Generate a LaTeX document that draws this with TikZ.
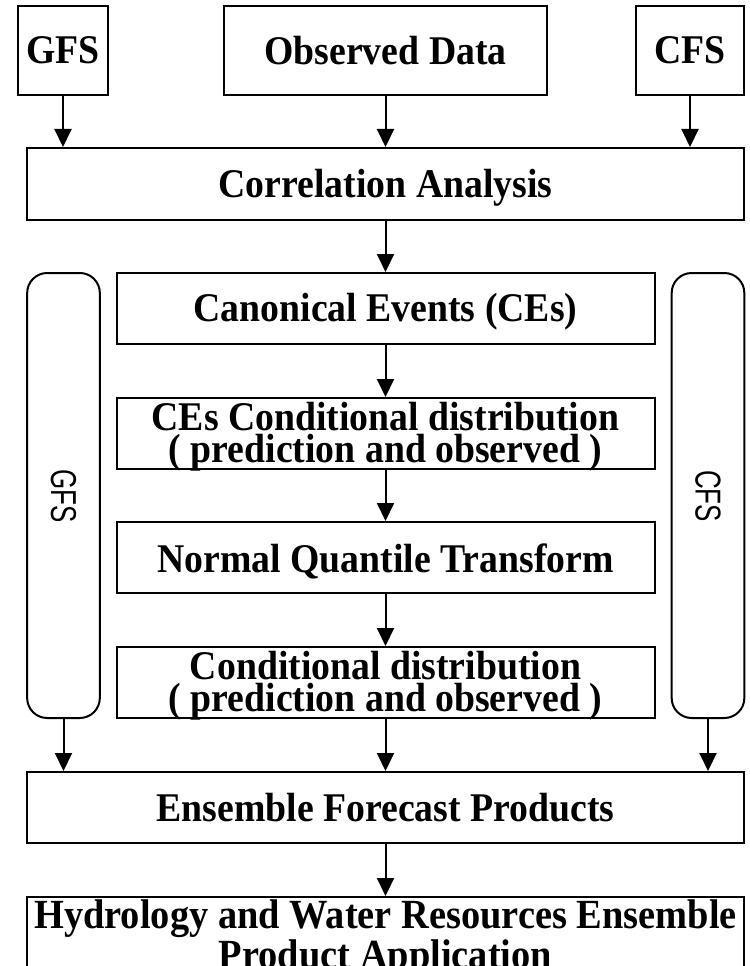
\documentclass[tikz,border=0pt]{standalone}
\usepackage{fontspec}
\setmainfont{Liberation Serif}
\setsansfont{Liberation Sans}
\usetikzlibrary{arrows.meta}
\begin{document}
\begin{tikzpicture}[x=0.75pt,y=-0.75pt,
  box/.style={draw, line width=1.5pt, rectangle, inner sep=0, minimum height=53.25pt},
  rbox/.style={draw, line width=1.5pt, rounded corners=15pt, inner sep=0, minimum width=54.5pt, minimum height=333.75pt},
  lbl/.style={inner sep=0, align=center, font=\fontsize{28.3}{22.9}\selectfont\bfseries, yscale=1.08},
  lbltwo/.style={inner sep=0, align=center, font=\fontsize{28.3}{22.2}\selectfont\bfseries, yscale=1.08},
  side/.style={inner sep=0, font=\fontsize{27}{30}\selectfont\sffamily, rotate=-90},
  arr/.style={line width=1.5pt, -{Triangle[length=13.5pt,width=12.75pt]}}]
\useasboundingbox (0,0) rectangle (749,966);
% top row
\node[box, minimum width=67.5pt, minimum height=66.75pt] (gfs) at (63,50.5) {};
\node[lbl] (tgfs) at (63,50.5) {GFS};
\node[box, minimum width=242.25pt, minimum height=66.75pt] (obs) at (385.5,50.5) {};
\node[lbl] (tobs) at (385.5,50.5) {Observed Data};
\node[box, minimum width=81pt, minimum height=66.75pt] (cfs) at (690,50.5) {};
\node[lbl] (tcfs) at (690,50.5) {CFS};
% correlation
\node[box, minimum width=537.75pt, minimum height=54pt] (ca) at (385.5,184) {};
\node[lbl] (tca) at (385.5,187.5) {Correlation Analysis};
% side rounded boxes
\node[rbox] (gl) at (63.5,495.5) {};
\node[side] (tgl) at (63.5,496) {\scalebox{0.72}[1]{GFS}};
\node[rbox] (gr) at (708,495.5) {};
\node[side] (tgr) at (708,496) {\scalebox{0.72}[1]{CFS}};
% middle chain
\node[box, minimum width=403.5pt] (ce) at (385.5,308.5) {};
\node[lbl] (tce) at (385.5,312) {Canonical Events (CEs)};
\node[box, minimum width=403.5pt] (cec) at (385.5,433.5) {};
\node[lbltwo] (tcec) at (385.5,437) {CEs Conditional distribution\\( prediction and observed )};
\node[box, minimum width=403.5pt] (nqt) at (385.5,557.5) {};
\node[lbl] (tnqt) at (385.5,561) {Normal Quantile Transform};
\node[box, minimum width=403.5pt] (cd) at (385.5,682.5) {};
\node[lbltwo] (tcd) at (385.5,685.5) {Conditional distribution\\( prediction and observed )};
% ensemble
\node[box, minimum width=537.75pt] (efp) at (385.5,807.5) {};
\node[lbl] (tefp) at (385.5,807.5) {Ensemble Forecast Products};
\node[box, minimum width=537.75pt, minimum height=69.75pt] (hyd) at (385.5,943.5) {};
\node[lbl, font=\fontsize{28.8}{25}\selectfont\bfseries] (thyd) at (385.5,938.5) {Hydrology and Water Resources Ensemble\\Product Application};
% arrows
\draw[arr] (gfs) -- (gfs |- ca.north);
\draw[arr] (obs) -- (obs |- ca.north);
\draw[arr] (cfs) -- (cfs |- ca.north);
\draw[arr] (ca) -- (ce);
\draw[arr] (ce) -- (cec);
\draw[arr] (cec) -- (nqt);
\draw[arr] (nqt) -- (cd);
\draw[arr] (cd) -- (efp);
\draw[arr] (gl) -- (gl |- efp.north);
\draw[arr] (gr) -- (gr |- efp.north);
\draw[arr] (efp) -- (hyd);
\end{tikzpicture}
\end{document}
